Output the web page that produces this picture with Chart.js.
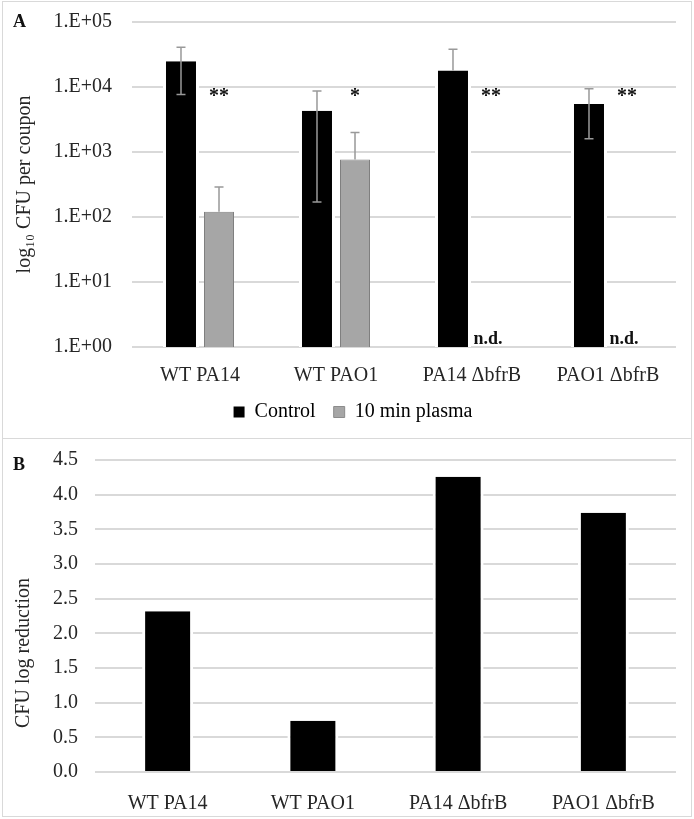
<!DOCTYPE html>
<html>
<head>
<meta charset="utf-8">
<script src="https://cdn.jsdelivr.net/npm/chart.js@4.4.1/dist/chart.umd.min.js"></script>
<style>
  body { margin: 0; background: #fff; width: 694px; height: 819px; overflow: hidden; position: relative; font-family: "Liberation Serif", serif; }
  #frame { position: absolute; left: 2px; top: 1px; width: 690px; height: 816px; border: 1.5px solid #d9d9d9; box-sizing: border-box; pointer-events: none; }
  #divider { position: absolute; left: 2px; top: 438px; width: 690px; border-top: 1.5px solid #d9d9d9; }
  .tag { position: absolute; left: 13px; font-weight: bold; font-size: 18px; line-height: 18px; color: #111; }
  canvas { position: absolute; left: 0; }
</style>
</head>
<body>
<canvas id="chartA" width="694" height="438" style="top:0"></canvas>
<canvas id="chartB" width="694" height="379" style="top:440px"></canvas>
<div id="frame"></div>
<div id="divider"></div>
<div class="tag" style="top:12px">A</div>
<div class="tag" style="top:455px">B</div>
<script>
// --- datos ---
const categories = ['WT PA14', 'WT PAO1', 'PA14 ΔbfrB', 'PAO1 ΔbfrB'];
const controlCfu = [25000, 4300, 18000, 5500];
const plasmaCfu = [120, 770, null, null];
const controlErrHi = [41000, 8700, 38000, 9400];
const controlErrLo = [7700, 170, null, 1600];
const plasmaErrHi = [290, 2000, null, null];
const plasmaErrLo = [null, null, null, null];
const sigMarks = ['**', '*', '**', '**'];
const ndMarks = ['', '', 'n.d.', 'n.d.'];
const cfuTicks = [1, 10, 100, 1000, 10000, 100000];
const cfuTickLabels = ['1.E+00', '1.E+01', '1.E+02', '1.E+03', '1.E+04', '1.E+05'];
const logReduction = [2.32, 0.74, 4.26, 3.74];

Chart.defaults.font.family = '"Liberation Serif", serif';
Chart.defaults.font.size = 20;
Chart.defaults.color = '#262626';
Chart.defaults.animation = false;

const gridColor = '#d9d9d9';

// sin relleno extra arriba/abajo por las etiquetas del eje
const noLabelPad = (s) => { s.paddingTop = 0; s.paddingBottom = 0; };

// barras de error dibujadas sobre las barras
const errorBars = {
    id: 'errorBars',
    afterDatasetsDraw(chart) {
        if (chart.canvas.id !== 'chartA') return;
        const ctx = chart.ctx;
        const y = chart.scales.y;
        const sets = [[controlErrHi, controlErrLo], [plasmaErrHi, plasmaErrLo]];
        sets.forEach(([hi, lo], di) => {
            chart.getDatasetMeta(di).data.forEach((bar, i) => {
                if (hi[i] == null) return;
                const x = bar.x;
                const top = y.getPixelForValue(hi[i]);
                const bottom = lo[i] != null ? y.getPixelForValue(lo[i]) : bar.y;
                ctx.save();
                ctx.strokeStyle = '#999';
                ctx.lineWidth = 1.5;
                ctx.beginPath();
                ctx.moveTo(x, top); ctx.lineTo(x, bottom);
                ctx.moveTo(x - 4.5, top); ctx.lineTo(x + 4.5, top);
                if (lo[i] != null) { ctx.moveTo(x - 4.5, bottom); ctx.lineTo(x + 4.5, bottom); }
                ctx.stroke();
                ctx.restore();
            });
        });
    }
};

// asteriscos y n.d.
const marks = {
    id: 'marks',
    afterDatasetsDraw(chart) {
        if (chart.canvas.id !== 'chartA') return;
        const ctx = chart.ctx;
        const y = chart.scales.y;
        const meta = chart.getDatasetMeta(1);
        ctx.save();
        ctx.fillStyle = '#111';
        ctx.textAlign = 'center';
        meta.data.forEach((bar, i) => {
            ctx.font = 'bold 20px "Liberation Serif", serif';
            ctx.textBaseline = 'middle';
            ctx.fillText(sigMarks[i], bar.x, y.getPixelForValue(7600) + 2);
            if (ndMarks[i]) {
                ctx.font = 'bold 18px "Liberation Serif", serif';
                ctx.textBaseline = 'alphabetic';
                ctx.fillText(ndMarks[i], bar.x - 3, y.getPixelForValue(1) - 3);
            }
        });
        ctx.restore();
    }
};

// título del eje Y del panel B (queda más abajo que el centro del área)
const sideTitle = {
    id: 'sideTitle',
    afterDraw(chart) {
        if (chart.canvas.id !== 'chartB') return;
        const { ctx, chartArea } = chart;
        ctx.save();
        ctx.translate(24, (chartArea.top + chartArea.bottom) / 2 + 37);
        ctx.rotate(-Math.PI / 2);
        ctx.font = '20px "Liberation Serif", serif';
        ctx.fillStyle = '#262626';
        ctx.textAlign = 'center';
        ctx.textBaseline = 'middle';
        ctx.fillText('CFU log reduction', 0, 0);
        ctx.restore();
    }
};

new Chart(document.getElementById('chartA'), {
    type: 'bar',
    data: {
        labels: categories,
        datasets: [{
            label: 'Control',
            data: controlCfu,
            backgroundColor: '#000',
            borderColor: '#fff',
            borderWidth: { left: 3, right: 3, top: 0, bottom: 0 },
            categoryPercentage: 0.559,
            barPercentage: 0.947
        }, {
            label: '10 min plasma',
            data: plasmaCfu,
            backgroundColor: '#a6a6a6',
            borderColor: '#7f7f7f',
            borderWidth: 1,
            categoryPercentage: 0.559,
            barPercentage: 0.79
        }]
    },
    options: {
        responsive: false,
        layout: { padding: { top: 22, right: 18, bottom: 6, left: 30 } },
        plugins: {
            legend: {
                position: 'bottom',
                labels: {
                    boxWidth: 11,
                    boxHeight: 11,
                    padding: 18,
                    generateLabels: (chart) => [
                        { text: 'Control', fillStyle: '#000', strokeStyle: '#000', lineWidth: 0, datasetIndex: 0 },
                        { text: '10 min plasma', fillStyle: '#a6a6a6', strokeStyle: '#8c8c8c', lineWidth: 1, datasetIndex: 1 }
                    ]
                }
            },
            tooltip: { enabled: false }
        },
        scales: {
            x: {
                grid: { display: false },
                border: { display: false },
                ticks: { padding: 9 },
                afterFit: (s) => { s.height = 37; }
            },
            y: {
                type: 'logarithmic',
                min: 1,
                max: 100000,
                afterBuildTicks: (axis) => { axis.ticks = cfuTicks.map(v => ({ value: v })); },
                ticks: {
                    padding: 20,
                    callback: (value) => cfuTickLabels[cfuTicks.indexOf(value)]
                },
                grid: { color: gridColor, lineWidth: 2, drawTicks: false },
                border: { display: false },
                title: { display: true, text: 'log₁₀ CFU per coupon', padding: { top: -17, bottom: 0 } },
                afterFit: (s) => { s.width = 102; noLabelPad(s); }
            }
        }
    },
    plugins: [errorBars, marks]
});

new Chart(document.getElementById('chartB'), {
    type: 'bar',
    data: {
        labels: categories,
        datasets: [{
            label: 'CFU log reduction',
            data: logReduction,
            backgroundColor: '#000',
            borderColor: '#fff',
            borderWidth: { left: 3, right: 3, top: 0, bottom: 0 },
            categoryPercentage: 1,
            barPercentage: 0.351
        }]
    },
    options: {
        responsive: false,
        layout: { padding: { top: 20, right: 18, bottom: 0, left: 0 } },
        plugins: { legend: { display: false }, tooltip: { enabled: false } },
        scales: {
            x: {
                grid: { display: false },
                border: { display: false },
                ticks: { padding: 12 },
                afterFit: (s) => { s.height = 47; }
            },
            y: {
                min: 0,
                max: 4.5,
                ticks: { stepSize: 0.5, padding: 17, callback: (v) => v.toFixed(1) },
                grid: { color: gridColor, lineWidth: 2, drawTicks: false },
                border: { display: false },
                title: { display: false },
                afterFit: (s) => { s.width = 95; noLabelPad(s); }
            }
        }
    },
    plugins: [sideTitle]
});
</script>
</body>
</html>
